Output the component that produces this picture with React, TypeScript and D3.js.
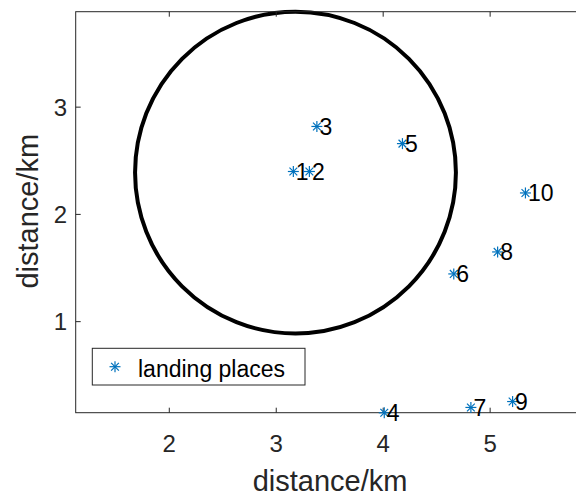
import React from "react";
import * as d3 from "d3";

// Landing place coordinates (km)
const siteIds = [1, 2, 3, 4, 5, 6, 7, 8, 9, 10];
const siteX = [3.16, 3.31, 3.38, 4.01, 4.18, 4.66, 4.82, 5.07, 5.21, 5.33];
const siteY = [2.4, 2.4, 2.82, 0.15, 2.66, 1.445, 0.2, 1.65, 0.255, 2.2];

// Coverage circle
const circleCenter = [3.18, 2.39];
const circleRadius = 1.5;

const xTicks = [2, 3, 4, 5];
const yTicks = [1, 2, 3];
const xDomain = [1.125, 5.915];
const yDomain = [0.151, 3.89];

const W = 576;
const H = 498;
const left = 75.7;
const right = 588;
const top = 11.7;
const bottom = 412.7;

const axisColor = "#262626";
const markerColor = "#0072BD";
const font = "'Liberation Sans', Arial, sans-serif";

function Asterisk({ cx, cy, r }: { cx: number; cy: number; r: number }) {
  const d = r * Math.SQRT1_2;
  return (
    <g stroke={markerColor} strokeWidth={1.2} strokeLinecap="butt">
      <line x1={cx - r} y1={cy} x2={cx + r} y2={cy} />
      <line x1={cx} y1={cy - r} x2={cx} y2={cy + r} />
      <line x1={cx - d} y1={cy - d} x2={cx + d} y2={cy + d} />
      <line x1={cx - d} y1={cy + d} x2={cx + d} y2={cy - d} />
    </g>
  );
}

export default function App() {
  const x = d3.scaleLinear().domain(xDomain).range([left, right]);
  const y = d3.scaleLinear().domain(yDomain).range([bottom, top]);
  const tickLen = 5;

  return (
    <svg
      width={W}
      height={H}
      style={{ position: "absolute", left: 0, top: 0, background: "#fff" }}
      fontFamily={font}
    >
      <rect x={0} y={0} width={W} height={H} fill="#fff" />

      {/* coverage circle */}
      <ellipse
        cx={x(circleCenter[0])}
        cy={y(circleCenter[1])}
        rx={x(circleCenter[0] + circleRadius) - x(circleCenter[0])}
        ry={y(circleCenter[1]) - y(circleCenter[1] + circleRadius)}
        fill="none"
        stroke="#000"
        strokeWidth={4}
      />

      {/* axes box */}
      <rect
        x={left}
        y={top}
        width={right - left}
        height={bottom - top}
        fill="none"
        stroke={axisColor}
        strokeWidth={1}
      />

      {/* x ticks */}
      {xTicks.map((t) => (
        <g key={"xt" + t}>
          <line x1={x(t)} x2={x(t)} y1={bottom} y2={bottom - tickLen} stroke={axisColor} />
          <line x1={x(t)} x2={x(t)} y1={top} y2={top + tickLen} stroke={axisColor} />
          <text
            x={x(t)}
            y={452}
            textAnchor="middle"
            fontSize={24}
            fill={axisColor}
          >
            {t}
          </text>
        </g>
      ))}

      {/* y ticks */}
      {yTicks.map((t) => (
        <g key={"yt" + t}>
          <line x1={left} x2={left + tickLen} y1={y(t)} y2={y(t)} stroke={axisColor} />
          <line x1={right} x2={right - tickLen} y1={y(t)} y2={y(t)} stroke={axisColor} />
          <text
            x={67}
            y={y(t)}
            dy="0.36em"
            textAnchor="end"
            fontSize={24}
            fill={axisColor}
          >
            {t}
          </text>
        </g>
      ))}

      {/* axis labels */}
      <text x={330} y={491} textAnchor="middle" fontSize={29} fill={axisColor}>
        distance/km
      </text>
      <text
        transform={`translate(38, ${(top + bottom) / 2 - 1}) rotate(-90)`}
        textAnchor="middle"
        fontSize={29}
        fill={axisColor}
      >
        distance/km
      </text>

      {/* landing places */}
      {siteIds.map((id, i) => (
        <g key={"s" + id}>
          <Asterisk cx={x(siteX[i])} cy={y(siteY[i])} r={5.5} />
        </g>
      ))}
      {siteIds.map((id, i) => (
        <text
          key={"l" + id}
          x={x(siteX[i]) + 2.5}
          y={y(siteY[i])}
          dy="0.36em"
          fontSize={23}
          fill="#000"
        >
          {id}
        </text>
      ))}

      {/* legend */}
      <rect
        x={92.3}
        y={348.3}
        width={212.7}
        height={36.7}
        fill="#fff"
        stroke={axisColor}
        strokeWidth={1}
      />
      <Asterisk cx={115} cy={366.7} r={5.5} />
      <text x={138} y={376.5} fontSize={23} fill="#000">
        landing places
      </text>
    </svg>
  );
}
